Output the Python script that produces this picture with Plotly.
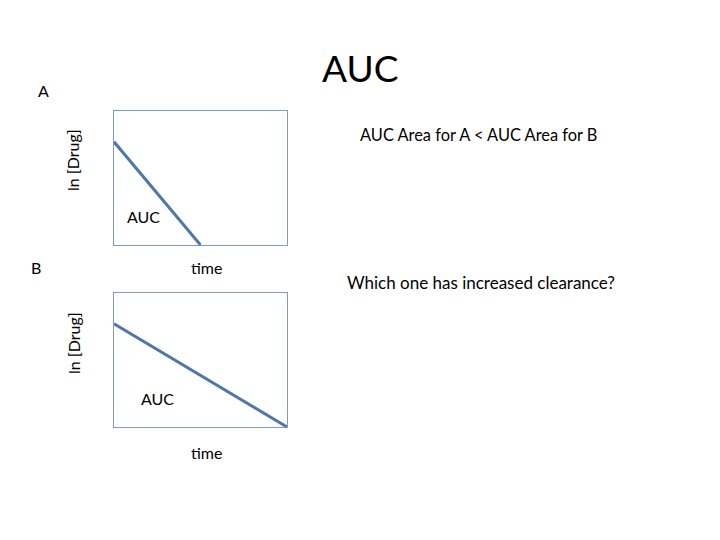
import plotly.graph_objects as go

# Data
time_a = [0, 5.0]
drug_a = [7.7, 0]
time_b = [0, 10]
drug_b = [7.7, 0]

FONT = "Lato, Carlito, 'Liberation Sans', sans-serif"
LINE_COLOR = "#4f78a8"
BOX_COLOR = "#7f9cc0"

fig = go.Figure()
fig.add_trace(go.Scatter(x=time_a, y=drug_a, mode="lines", line=dict(color=LINE_COLOR, width=3),
                         xaxis="x", yaxis="y", showlegend=False, hoverinfo="skip"))
fig.add_trace(go.Scatter(x=time_b, y=drug_b, mode="lines", line=dict(color=LINE_COLOR, width=3),
                         xaxis="x2", yaxis="y2", showlegend=False, hoverinfo="skip"))

W, H = 720, 540
OFF = 8  # page body margin offset
def px(x):
    return (x - OFF) / W
def py(y):
    return 1 - (y - OFF) / H

ax_common = dict(range=[0, 10], showgrid=False, zeroline=False, showticklabels=False, ticks="",
                 showline=True, linecolor=BOX_COLOR, linewidth=1, mirror=True, fixedrange=True)

fig.update_layout(
    width=W, height=H,
    margin=dict(l=0, r=0, t=0, b=0),
    paper_bgcolor="white", plot_bgcolor="white",
    font=dict(family=FONT, color="black", size=16),
    xaxis=dict(domain=[px(114), px(287)], anchor="y", **ax_common),
    yaxis=dict(domain=[py(245), py(111)], anchor="x", **ax_common),
    xaxis2=dict(domain=[px(114), px(287)], anchor="y2", **ax_common),
    yaxis2=dict(domain=[py(427), py(293)], anchor="x2", **ax_common),
)

def ann(text, x, y, size=16, angle=0):
    fig.add_annotation(text=text, x=px(x), y=py(y), xref="paper", yref="paper",
                       showarrow=False, xanchor="center", yanchor="middle",
                       textangle=angle, font=dict(size=size, family=FONT, color="black"))

ann("AUC", 360, 67, size=37)
ann("A", 43, 90)
ann("B", 36, 268)
ann("ln [Drug]", 73, 160, angle=-90)
ann("ln [Drug]", 73, 343, angle=-90)
ann("AUC", 143, 216)
ann("AUC", 157, 398)
ann("time", 206, 268)
ann("time", 206, 452)
ann("AUC Area for A &lt; AUC Area for B", 478, 134, size=16.4)
ann("Which one has increased clearance?", 481, 282, size=17)

fig.write_html("out.html")
